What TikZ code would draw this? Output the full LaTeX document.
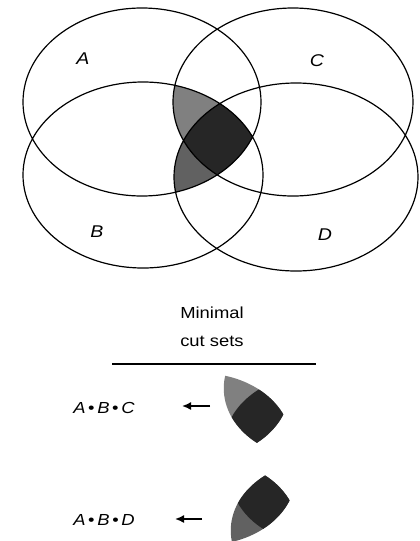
\documentclass[tikz,border=0pt]{standalone}
\usepackage{fontspec}
\setmainfont[FakeStretch=1.15]{Liberation Sans}
\usetikzlibrary{arrows.meta}
\newcommand{\venA}{(142,102) ellipse (119 and 94)}
\newcommand{\venB}{(143,175) ellipse (120 and 93)}
\newcommand{\venC}{(293,102) ellipse (120 and 94)}
\newcommand{\venD}{(296,177) ellipse (122 and 94)}

\begin{document}
\begin{tikzpicture}[x=1pt,y=-1pt,>={Latex[length=9pt,width=8pt]},
  setline/.style={line width=1.2pt},
  setname/.style={font=\fontsize{17}{17}\selectfont\itshape},
  cutname/.style={font=\fontsize{16}{16}\selectfont},
  lightcut/.style={fill=black!50},
  lowcut/.style={fill=black!62},
  darkcut/.style={fill=black!85}]
\useasboundingbox (0,0) rectangle (420,541);
\begin{scope}
  \clip \venA; \clip \venB;
  \fill[lightcut] \venC;
  \fill[lowcut] \venD;
  \clip \venC; \fill[darkcut] \venD;
\end{scope}
\draw[setline] \venA \venB \venC \venD;
\node[setname] (a) at (83,59) {A};
\node[setname] (c) at (317,61) {C};
\node[setname] (b) at (97,232) {B};
\node[setname] (d) at (325,235) {D};

\node[cutname,align=center,font=\fontsize{16}{28}\selectfont] (head) at (212,327) {Minimal\\cut sets};
\coordinate (rl) at (112,364);
\coordinate (rr) at (316,364);
\draw[line width=1.2pt] (rl) -- (rr);

\begin{scope}[shift={(94,311.75)},scale=0.75]
  \clip \venA; \clip \venB; \clip \venC;
  \fill[lightcut] \venC;
  \fill[darkcut] \venD;
\end{scope}
\begin{scope}[shift={(100.25,397.75)},scale=0.75]
  \clip \venA; \clip \venB; \clip \venD;
  \fill[lowcut] \venD;
  \fill[darkcut] \venC;
\end{scope}

\node[cutname] (abc) at (104,408) {\textit{A}\,•\,\textit{B}\,•\,\textit{C}};
\node[cutname] (abd) at (104,520) {\textit{A}\,•\,\textit{B}\,•\,\textit{D}};
\coordinate (s1) at (210,406);
\coordinate (e1) at (182,406);
\coordinate (s2) at (202,519);
\coordinate (e2) at (175,519);
\draw[->,line width=1.6pt] (s1) -- (e1);
\draw[->,line width=1.6pt] (s2) -- (e2);
\end{tikzpicture}
\end{document}
